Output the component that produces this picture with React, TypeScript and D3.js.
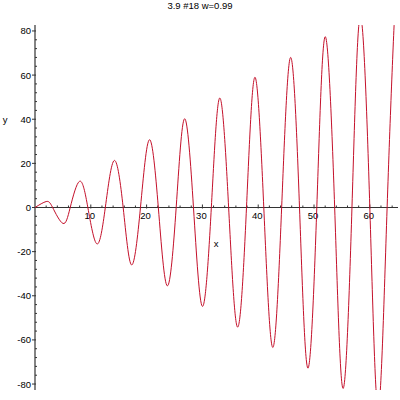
import React from "react";
import * as d3 from "d3";

const title = "3.9 #18 w=0.99";
const xValues = [0, 2.0, 3.16, 5.0, 6.31, 8.0, 9.47, 11.1, 12.6, 14.2, 15.8, 17.3, 18.9, 20.5, 22.1, 23.7, 25.3, 26.8, 28.4, 30.0, 31.6, 33.1, 34.7, 36.3, 37.9, 39.4, 41.0, 42.6, 44.2, 45.8, 47.4, 48.9, 50.5, 52.0, 53.7, 55.2, 56.8, 58.3, 60.0, 61.5, 63.1, 64.6, 65.0];
const yValues = [0, 2.7, 0, -7.2, 0, 11.9, 0, -16.5, 0, 21.3, 0, -26.0, 0, 30.7, 0, -35.5, 0, 40.2, 0, -44.8, 0, 49.6, 0, -54.2, 0, 59.0, 0, -63.4, 0, 68.0, 0, -72.8, 0, 77.4, 0, -82.0, 0, 86.6, 0, -91.2, 0, 95.5, 95.0];
const xTicks = [10, 20, 30, 40, 50, 60];
const yTicks = [-80, -60, -40, -20, 0, 20, 40, 60, 80];
const xDomain = [0, 65.05];
const yDomain = [-82.7, 82.7];

export default function App() {
  const W = 400, H = 400;
  const x = d3.scaleLinear().domain(xDomain).range([35, 398]);
  const y = d3.scaleLinear().domain(yDomain).range([390, 25]);
  const pts: [number, number][] = xValues.map((v, i) => [v, yValues[i]]);
  const line = d3.line<[number, number]>().x(d => x(d[0])).y(d => y(d[1])).curve(d3.curveNatural);
  const xMinor = d3.range(2, 65, 2).filter(v => v % 10 !== 0);
  const yMinor = d3.range(-80, 81, 4).filter(v => v % 20 !== 0);
  const x0 = x(0), y0 = y(0);
  const axisColor = "#333";
  const font = "Liberation Sans, Arial, sans-serif";
  return (
    <svg width={W} height={H} style={{ position: "absolute", left: 0, top: 0, background: "#fff" }}>
      <defs>
        <clipPath id="plotclip">
          <rect x={x(xDomain[0])} y={y(yDomain[1])} width={x(xDomain[1]) - x(xDomain[0])} height={y(yDomain[0]) - y(yDomain[1])} />
        </clipPath>
      </defs>
      <text x={200} y={9} textAnchor="middle" fontFamily={font} fontSize={9.5} fill="#000">{title}</text>
      {/* y axis */}
      <line x1={x0} x2={x0} y1={y(yDomain[1])} y2={y(yDomain[0])} stroke={axisColor} strokeWidth={1.2} />
      {yTicks.map(t => (
        <g key={"yt" + t}>
          <line x1={x0 - 3} x2={x0 + 1} y1={y(t)} y2={y(t)} stroke={axisColor} strokeWidth={1} />
          <text x={x0 - 4} y={y(t) + 3.5} textAnchor="end" fontFamily={font} fontSize={9.5} fill="#000">{t}</text>
        </g>
      ))}
      {yMinor.map(t => (
        <line key={"ym" + t} x1={x0} x2={x0 + 2} y1={y(t)} y2={y(t)} stroke={axisColor} strokeWidth={1} />
      ))}
      {/* x axis */}
      <line x1={x(xDomain[0])} x2={x(xDomain[1])} y1={y0} y2={y0} stroke={axisColor} strokeWidth={1.2} />
      {xTicks.map(t => (
        <g key={"xt" + t}>
          <line x1={x(t)} x2={x(t)} y1={y0 - 3} y2={y0 + 1} stroke={axisColor} strokeWidth={1} />
          <text x={x(t) - 1} y={y0 + 11} textAnchor="middle" fontFamily={font} fontSize={9.5} fill="#000">{t}</text>
        </g>
      ))}
      {xMinor.map(t => (
        <line key={"xm" + t} x1={x(t)} x2={x(t)} y1={y0 - 2} y2={y0} stroke={axisColor} strokeWidth={1} />
      ))}
      <text x={216} y={247} textAnchor="middle" fontFamily={font} fontSize={9.5} fill="#000">x</text>
      <text x={5} y={123} textAnchor="middle" fontFamily={font} fontSize={9.5} fill="#000">y</text>
      <path d={line(pts) || ""} fill="none" stroke="#c4102a" strokeWidth={1} clipPath="url(#plotclip)" />
    </svg>
  );
}
